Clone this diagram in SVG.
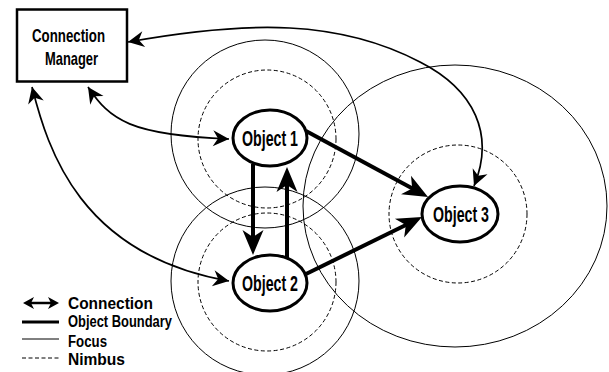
<svg xmlns="http://www.w3.org/2000/svg" width="609" height="372" viewBox="0 0 609 372">
  <style>
    .label { font-family: "Liberation Sans", Arial, sans-serif; font-weight: bold; fill: #000; }
    .focus { fill: none; stroke: #000; stroke-width: 1; }
    .nimbus { fill: none; stroke: #000; stroke-width: 1; stroke-dasharray: 4 2.5; }
    .object { fill: #fff; stroke: #000; stroke-width: 3; }
    .conn { fill: none; stroke: #000; stroke-width: 1.7; marker-start: url(#head-thin-start); marker-end: url(#head-thin); }
    .flow { fill: none; stroke: #000; stroke-width: 4; marker-end: url(#head-thick); }
  </style>
  <defs>
    <marker id="head-thin" markerUnits="userSpaceOnUse" viewBox="-18 -10 20 20" markerWidth="20" markerHeight="20" refX="0" refY="0" orient="auto">
      <path d="M0,0 L-16,-8 L-11,0 L-16,8 Z" fill="#000"/>
    </marker>
    <marker id="head-thin-start" markerUnits="userSpaceOnUse" viewBox="-18 -10 20 20" markerWidth="20" markerHeight="20" refX="0" refY="0" orient="auto-start-reverse">
      <path d="M0,0 L-16,-8 L-11,0 L-16,8 Z" fill="#000"/>
    </marker>
    <marker id="head-thick" markerUnits="userSpaceOnUse" viewBox="-28 -13 30 26" markerWidth="30" markerHeight="26" refX="-14" refY="0" orient="auto">
      <path d="M0,0 L-25,-10.5 L-18,0 L-25,10.5 Z" fill="#000"/>
    </marker>
    <marker id="head-key" markerUnits="userSpaceOnUse" viewBox="-13 -8 15 16" markerWidth="15" markerHeight="16" refX="-4" refY="0" orient="auto-start-reverse">
      <path d="M0,0 L-11,-6 L-8,0 L-11,6 Z" fill="#000"/>
    </marker>
  </defs>

  <!-- focus and nimbus regions -->
  <g id="regions">
    <circle class="focus" cx="265" cy="134" r="94"/>
    <circle class="nimbus" cx="267" cy="139" r="69"/>
    <circle class="focus" cx="265" cy="281" r="94"/>
    <circle class="nimbus" cx="267" cy="282" r="69"/>
    <ellipse class="focus" cx="455" cy="206" rx="152" ry="141"/>
    <circle class="nimbus" cx="458" cy="214" r="69"/>
  </g>

  <!-- connectors -->
  <g id="connectors">
    <path class="conn" d="M128,42 C250,20 340,20 420,62 C475,90 495,135 474,186"/>
    <path class="conn" d="M88,87 C110,120 130,135 229,139"/>
    <path class="conn" d="M32,87 C48,150 80,255 229,281"/>
    <path class="flow" d="M306,131 L415.7,190.3"/>
    <path class="flow" d="M306,274 L409.4,223.2"/>
    <path class="flow" d="M253,164 L253,241"/>
    <path class="flow" d="M287,258 L287,181"/>
  </g>

  <g id="connection-manager">
    <rect x="17" y="9.5" width="110" height="72" fill="#fff" stroke="#000" stroke-width="2.5"/>
    <text class="label" x="68.5" y="42" font-size="19" text-anchor="middle" textLength="73" lengthAdjust="spacingAndGlyphs">Connection</text>
    <text class="label" x="71.5" y="65" font-size="19" text-anchor="middle" textLength="53" lengthAdjust="spacingAndGlyphs">Manager</text>
  </g>

  <g id="object-1">
    <ellipse class="object" cx="270" cy="138" rx="37" ry="28"/>
    <text class="label" x="270" y="145.5" font-size="22" text-anchor="middle" textLength="56" lengthAdjust="spacingAndGlyphs">Object 1</text>
  </g>

  <g id="object-2">
    <ellipse class="object" cx="270" cy="283" rx="37" ry="28"/>
    <text class="label" x="270" y="290.5" font-size="22" text-anchor="middle" textLength="56" lengthAdjust="spacingAndGlyphs">Object 2</text>
  </g>

  <g id="object-3">
    <ellipse class="object" cx="460" cy="214" rx="38" ry="28"/>
    <text class="label" x="461" y="221.5" font-size="22" text-anchor="middle" textLength="56" lengthAdjust="spacingAndGlyphs">Object 3</text>
  </g>

  <!-- key -->
  <g id="legend">
    <path d="M27,303 L55,303" stroke="#000" stroke-width="2.5" fill="none" marker-start="url(#head-key)" marker-end="url(#head-key)"/>
    <line x1="22" y1="322" x2="59" y2="322" stroke="#000" stroke-width="3"/>
    <line x1="22" y1="339" x2="59" y2="339" stroke="#000" stroke-width="1"/>
    <line x1="22" y1="358" x2="59" y2="358" class="nimbus"/>
    <text class="label" x="68" y="309" font-size="16" textLength="85" lengthAdjust="spacingAndGlyphs">Connection</text>
    <text class="label" x="68" y="327" font-size="16" textLength="104" lengthAdjust="spacingAndGlyphs">Object Boundary</text>
    <text class="label" x="68" y="347" font-size="16" textLength="39" lengthAdjust="spacingAndGlyphs">Focus</text>
    <text class="label" x="68" y="365" font-size="16" textLength="57" lengthAdjust="spacingAndGlyphs">Nimbus</text>
  </g>
</svg>
